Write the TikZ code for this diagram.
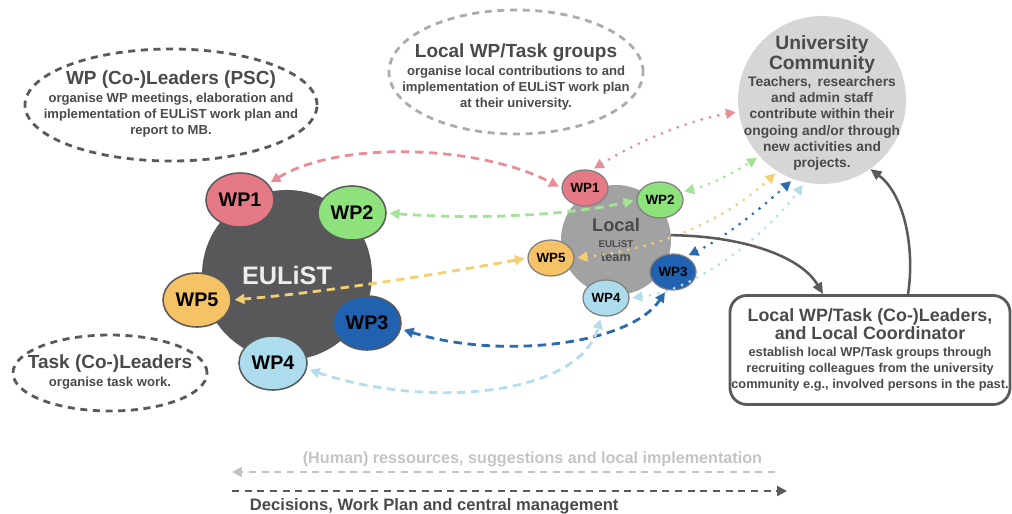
\documentclass[tikz,border=0pt]{standalone}
\usepackage{fontspec}
\setmainfont{Liberation Sans}
\usetikzlibrary{shapes,calc,positioning,arrows.meta}

\definecolor{linegray}{HTML}{5A5A5A}
\definecolor{eulistgray}{HTML}{58585A}
\definecolor{localgray}{HTML}{A2A2A2}
\definecolor{unigray}{HTML}{D6D6D6}
\definecolor{textgray}{HTML}{4A4A4A}
\definecolor{legendgray}{HTML}{C4C4C4}
\definecolor{wpred}{HTML}{E57985}
\definecolor{wpgreen}{HTML}{8EE27C}
\definecolor{wporange}{HTML}{F5C265}
\definecolor{wpblue}{HTML}{2062B0}
\definecolor{wplight}{HTML}{ADDCEC}
\definecolor{linkred}{HTML}{E88E98}
\definecolor{linkgreen}{HTML}{A3E395}
\definecolor{linkyellow}{HTML}{F4CF72}
\definecolor{linkblue}{HTML}{2B6AB0}
\definecolor{linklight}{HTML}{B6DDEB}

\newcommand{\titlefont}{\fontsize{13.5}{15}\selectfont\bfseries}
\newcommand{\bodyfont}{\fontsize{9.3}{11.4}\selectfont\bfseries}

\tikzset{
  notebubble/.style={ellipse, draw=linegray, line width=2pt, dash pattern=on 5pt off 4pt, inner sep=0pt},
  notetext/.style={align=center, inner sep=0pt, text=textgray, font=\bodyfont},
  wpbig/.style={ellipse, draw=linegray, line width=1.1pt, minimum width=1.7cm, minimum height=1.35cm, inner sep=0pt, font=\fontsize{14}{16}\selectfont\bfseries},
  wpsmall/.style={ellipse, draw=gray, line width=0.9pt, minimum width=1.15cm, minimum height=0.9cm, inner sep=0pt, font=\fontsize{9.5}{11}\selectfont\bfseries},
  link/.style={line width=2pt, dash pattern=on 6pt off 4pt, shorten <=2pt, shorten >=2pt, {Triangle[length=7pt,width=7pt]}-{Triangle[length=7pt,width=7pt]}},
  dotlink/.style={line width=2.2pt, line cap=round, dash pattern=on 0pt off 6pt, shorten <=2pt, shorten >=2pt, {Triangle[length=7pt,width=7pt]}-{Triangle[length=7pt,width=7pt]}},
  flow/.style={draw=linegray, line width=1.8pt, -{Triangle[length=8pt,width=7pt]}},
  legendline/.style={line width=2pt, dash pattern=on 5pt off 4pt}
}

\begin{document}
\begin{tikzpicture}[x=0.025cm,y=-0.025cm]
\useasboundingbox (0,0) rectangle (1012,513);

% dashed notes
\node[notebubble, minimum width=7.3cm, minimum height=2.8cm] (psc) at (171,105) {};
\node[notetext] (psctext) at (171,104)
  {{\titlefont WP (Co-)Leaders (PSC)}\\[1pt] organise WP meetings, elaboration and\\ implementation of EULiST work plan and\\ report to MB.};
\node[notebubble, draw=gray!65, minimum width=6.35cm, minimum height=3.1cm] (groups) at (516,72) {};
\node[notetext] (groupstext) at (516,77)
  {{\titlefont Local WP/Task groups}\\[1pt] organise local contributions to and\\ implementation of EULiST work plan\\ at their university.};
\node[notebubble, minimum width=4.85cm, minimum height=1.9cm] (task) at (110,373) {};
\node[notetext] (tasktext) at (110,372)
  {{\titlefont Task (Co-)Leaders}\\[1pt] organise task work.};

% university community
\node[circle, fill=unigray, minimum size=4.2cm, inner sep=0pt] (uni) at (822,100) {};
\node[notetext, font=\fontsize{9.8}{11.5}\selectfont\bfseries] (unitext) at (822,103)
  {{\fontsize{13.7}{15}\selectfont University}\\ {\fontsize{13.7}{15}\selectfont Community}\\[1pt] Teachers,\, researchers\\ and admin staff\\ contribute within their\\ ongoing and/or through\\ new activities and\\ projects.};

% central
\node[circle, fill=eulistgray, minimum size=4.25cm, text=white!93!black, font=\fontsize{18}{20}\selectfont\bfseries] (eulist) at (287,275) {EULiST};
\node[wpbig, fill=wpred] (bwp1) at (240,200) {WP1};
\node[wpbig, fill=wpgreen] (bwp2) at (352,213) {WP2};
\node[wpbig, fill=wporange] (bwp5) at (197,300) {WP5};
\node[wpbig, fill=wpblue] (bwp3) at (367,323) {WP3};
\node[wpbig, fill=wplight] (bwp4) at (273,363) {WP4};

% local team
\node[circle, fill=localgray, minimum size=2.75cm, inner sep=0pt, align=center, text=textgray] (local) at (616,240)
  {{\fontsize{13}{14}\selectfont\bfseries Local}\\[-1pt] {\fontsize{7}{8}\selectfont\bfseries EULiST}\\[-2pt] {\fontsize{9}{10}\selectfont\bfseries team}};
\node[wpsmall, fill=wpred] (lwp1) at (585,188) {WP1};
\node[wpsmall, fill=wpgreen] (lwp2) at (660,200) {WP2};
\node[wpsmall, fill=wporange] (lwp5) at (551,258) {WP5};
\node[wpsmall, fill=wpblue] (lwp3) at (673,272) {WP3};
\node[wpsmall, fill=wplight] (lwp4) at (606,298) {WP4};

% local leaders box
\node[draw=linegray, line width=2pt, rounded corners=12pt, minimum width=7cm, minimum height=2.725cm, inner sep=0pt, align=center, text=textgray, font=\fontsize{9.1}{11.2}\selectfont\bfseries] (lead) at (870,350)
  {{\fontsize{12.7}{14}\selectfont Local WP/Task (Co-)Leaders,}\\ {\fontsize{12.7}{14}\selectfont and Local Coordinator}\\[1pt] establish local WP/Task groups through\\ recruiting colleagues from the university\\ community e.g., involved persons in the past.};

% links central <-> local
\draw[link, linkred] (bwp1.30) .. controls (340,140) and (480,145) .. (lwp1.west);
\draw[link, linkgreen] (bwp2.east) .. controls (480,220) and (570,215) .. (lwp2.west);
\draw[link, linkyellow] (lwp5.west) .. controls (450,272) and (330,292) .. (bwp5.east);
\draw[link, linkblue] (bwp3.-10) .. controls (500,360) and (630,345) .. (lwp3.250);
\draw[link, linklight] (bwp4.-10) .. controls (430,410) and (580,395) .. (lwp4.255);

% links local <-> university
\draw[dotlink, linkred] (lwp1.70) .. controls (640,140) and (690,120) .. (uni.188);
\draw[dotlink, linkgreen] (lwp2.20) .. controls (710,185) and (735,172) .. (uni.222);
\draw[dotlink, linkyellow] (lwp5.east) .. controls (650,250) and (720,225) .. (uni.238);
\draw[dotlink, linkblue] (lwp3.50) .. controls (730,235) and (770,200) .. (uni.250);
\draw[dotlink, linklight] (lwp4.east) .. controls (700,290) and (770,230) .. (uni.258);

% leaders flow
\draw[flow] (local.5) .. controls (740,236) and (800,255) .. ($(lead.north)+(-47,0)$);
\draw[flow] ($(lead.north)+(38,0)$) .. controls (915,250) and (905,195) .. (uni.305);

% legend
\coordinate (resfrom) at (775,472);
\coordinate (resto) at (232,472);
\draw[legendline, legendgray, -{Triangle[length=7pt,width=7pt]}] (resfrom) -- (resto);
\node[anchor=east, text=legendgray, font=\fontsize{11.5}{13}\selectfont\bfseries] (restext) at (767,459) {(Human) ressources, suggestions and local implementation};
\coordinate (decfrom) at (232,491);
\coordinate (decto) at (787,491);
\draw[legendline, linegray, -{Triangle[length=7pt,width=7pt]}] (decfrom) -- (decto);
\node[anchor=west, text=textgray, font=\fontsize{11.8}{13}\selectfont\bfseries] (dectext) at (245,506) {Decisions, Work Plan and central management};

\end{tikzpicture}
\end{document}
